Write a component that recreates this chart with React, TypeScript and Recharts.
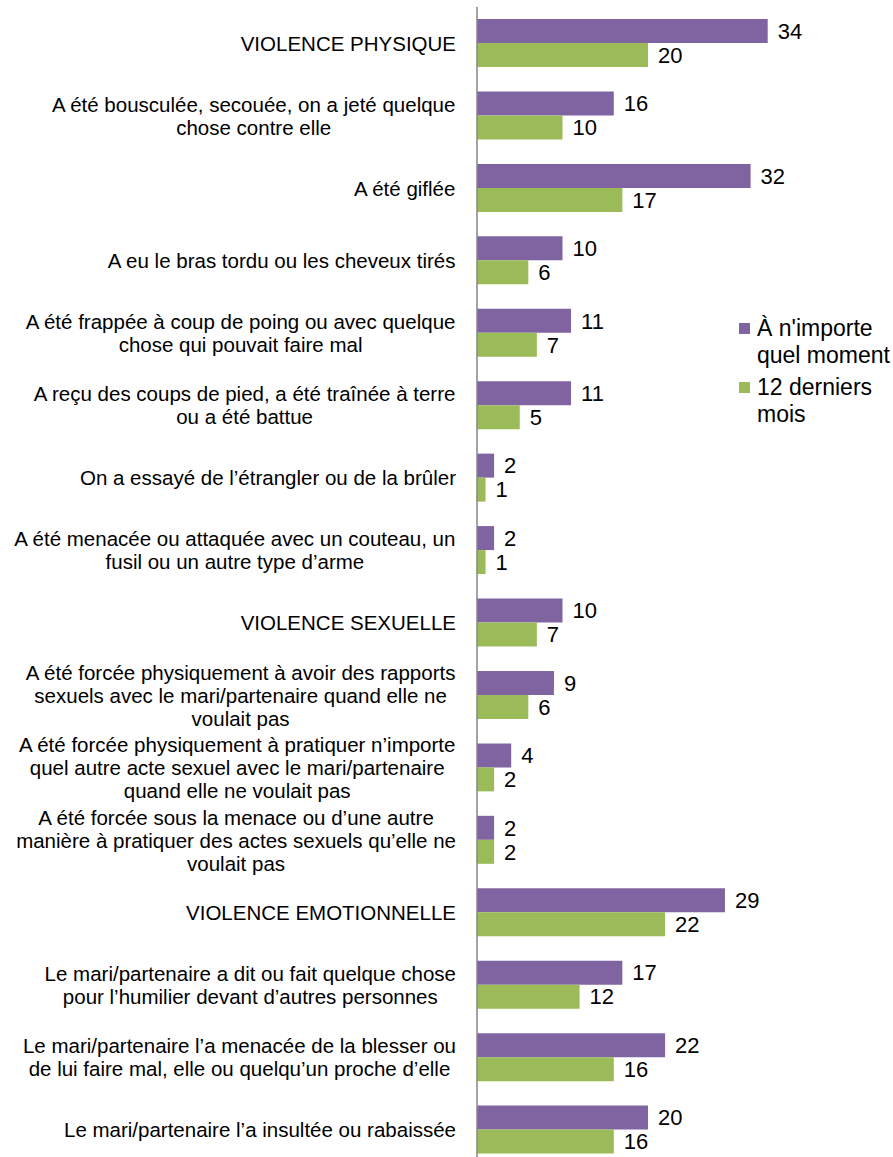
import React from "react";
import { BarChart, Bar, XAxis, YAxis, LabelList } from "recharts";

const categories: string[][] = [
  ["VIOLENCE PHYSIQUE"],
  ["A été bousculée, secouée, on a jeté quelque", "chose contre elle"],
  ["A été giflée"],
  ["A eu le bras tordu ou les cheveux tirés"],
  ["A été frappée à coup de poing ou avec quelque", "chose qui pouvait faire mal"],
  ["A reçu des coups de pied, a été traînée à terre", "ou a été battue"],
  ["On a essayé de l’étrangler ou de la brûler"],
  ["A été menacée ou attaquée avec un couteau, un", "fusil ou un autre type d’arme"],
  ["VIOLENCE SEXUELLE"],
  ["A été forcée physiquement à avoir des rapports", "sexuels avec le mari/partenaire quand elle ne", "voulait pas"],
  ["A été forcée physiquement à pratiquer n’importe", "quel autre acte sexuel avec le mari/partenaire", "quand elle ne voulait pas"],
  ["A été forcée sous la menace ou d’une autre", "manière à pratiquer des actes sexuels qu’elle ne", "voulait pas"],
  ["VIOLENCE EMOTIONNELLE"],
  ["Le mari/partenaire a dit ou fait quelque chose", "pour l’humilier devant d’autres personnes"],
  ["Le mari/partenaire l’a menacée de la blesser ou", "de lui faire mal, elle ou quelqu’un proche d’elle"],
  ["Le mari/partenaire l’a insultée ou rabaissée"],
];

const anyTime = [34, 16, 32, 10, 11, 11, 2, 2, 10, 9, 4, 2, 29, 17, 22, 20];
const last12 = [20, 10, 17, 6, 7, 5, 1, 1, 7, 6, 2, 2, 22, 12, 16, 16];

const seriesNames = ["À n'importe quel moment", "12 derniers mois"];
const legendLines = [["À n'importe", "quel moment"], ["12 derniers", "mois"]];

const PURPLE = "#8064A2";
const GREEN = "#9BBB59";
const FONT = "'Liberation Sans', Arial, sans-serif";

const data = categories.map((c, i) => ({
  name: c.join("\n"),
  anyTime: anyTime[i],
  last12: last12[i],
}));

let ctx: CanvasRenderingContext2D | null = null;
function measure(text: string, size: number) {
  if (!ctx) {
    const c = document.createElement("canvas");
    ctx = c.getContext("2d");
  }
  if (!ctx) return text.length * size * 0.5;
  ctx.font = `${size}px ${FONT}`;
  return ctx.measureText(text).width;
}

const LABEL_SIZE = 20.5;
const LINE_H = 23;
const RIGHT_EDGE = 456;

function CategoryTick(props: any) {
  const { y, payload } = props;
  const lines = String(payload.value).split("\n");
  const maxW = Math.max(...lines.map((l) => measure(l, LABEL_SIZE)));
  const cx = RIGHT_EDGE - maxW / 2;
  const startY = y - ((lines.length - 1) * LINE_H) / 2;
  return (
    <g>
      {lines.map((l, i) => (
        <text
          key={i}
          x={cx}
          y={startY + i * LINE_H}
          textAnchor="middle"
          dominantBaseline="central"
          fontSize={LABEL_SIZE}
          fontFamily={FONT}
          fill="#000"
        >
          {l}
        </text>
      ))}
    </g>
  );
}

function LegendBox() {
  const colors = [PURPLE, GREEN];
  return (
    <div
      style={{
        position: "absolute",
        left: 739,
        top: 314.5,
        fontFamily: FONT,
        fontSize: 23,
        lineHeight: "27px",
        color: "#000",
      }}
    >
      {legendLines.map((ls, i) => (
        <div
          key={i}
          title={seriesNames[i]}
          style={{ position: "relative", paddingLeft: 18, marginBottom: i === 0 ? 5 : 0 }}
        >
          <div
            style={{
              position: "absolute",
              left: 0,
              top: 8,
              width: 11,
              height: 11,
              background: colors[i],
            }}
          />
          {ls.map((l, j) => (
            <div key={j} style={{ whiteSpace: "nowrap" }}>
              {l}
            </div>
          ))}
        </div>
      ))}
    </div>
  );
}

export default function App() {
  return (
    <div
      style={{
        position: "fixed",
        left: 0,
        top: 0,
        width: 893,
        height: 1157,
        overflow: "hidden",
        background: "#fff",
      }}
    >
      <BarChart
        layout="vertical"
        width={893}
        height={1166}
        data={data}
        margin={{ top: 7, right: 74, bottom: 0, left: 0 }}
        barCategoryGap={12}
        barGap={0}
      >
        <XAxis type="number" domain={[0, 40]} hide />
        <YAxis
          type="category"
          dataKey="name"
          width={477}
          interval={0}
          tickLine={false}
          axisLine={{ stroke: "#868686", strokeWidth: 1.5 }}
          tick={<CategoryTick />}
        />
        <Bar dataKey="anyTime" name={seriesNames[0]} fill={PURPLE} isAnimationActive={false}>
          <LabelList
            dataKey="anyTime"
            position="right"
            offset={10}
            fontSize={22}
            fontFamily={FONT}
            fill="#000"
          />
        </Bar>
        <Bar dataKey="last12" name={seriesNames[1]} fill={GREEN} isAnimationActive={false}>
          <LabelList
            dataKey="last12"
            position="right"
            offset={10}
            fontSize={22}
            fontFamily={FONT}
            fill="#000"
          />
        </Bar>
      </BarChart>
      <LegendBox />
    </div>
  );
}
